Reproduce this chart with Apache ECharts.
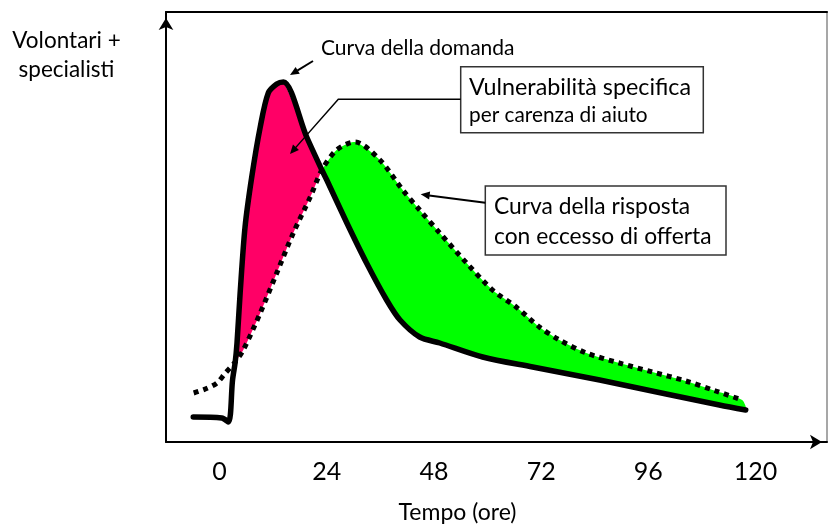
<!DOCTYPE html>
<html>
<head>
<meta charset="utf-8">
<script src="https://cdn.jsdelivr.net/npm/echarts@6/dist/echarts.min.js"></script>
<style>
html,body{margin:0;padding:0;background:#fff;}
#chart{width:828px;height:525px;}
</style>
</head>
<body>
<div id="chart"></div>
<script>
// ---- data (time in hours, value in arbitrary units) ----
const tickValues = [0, 24, 48, 72, 96, 120];
const tickLabels = ['0', '24', '48', '72', '96', '120'];

// "Curva della domanda" (solid)
const demandTime  = [-5.9, 0.5, 2.0, 2.9, 3.5, 3.9, 4.6, 5.7, 7.2, 9.1, 10.9, 12.8, 14.3, 19.5, 22.9, 24.0, 28.5, 32.9, 37.4, 40.4, 44.8, 49.3, 58.9, 70.1, 85.1, 100.0, 111.9, 117.8];
const demandValue = [25, 24, 20, 62, 80, 99, 149, 215, 265, 315, 349, 358, 360, 305, 272, 262, 219, 179, 142, 122, 105, 99, 85, 75, 62, 48, 37, 32];

// "Curva della risposta" (dotted)
const responseTime  = [-5.8, -3.2, -0.6, 1.3, 3.5, 5.3, 9.1, 12.8, 16.5, 20.3, 22.9, 26.2, 30.3, 35.9, 41.0, 44.8, 49.3, 55.3, 61.1, 66.4, 71.6, 76.1, 82.1, 89.5, 96.9, 104.4, 111.1, 117.0];
const responseValue = [49, 53, 59, 69, 80, 92, 129, 169, 209, 245, 272, 292, 300, 282, 252, 232, 209, 179, 152, 135, 115, 102, 89, 79, 70, 61, 51, 42];

// times where the two curves cross
const crossingTimes = [3.5, 22.9];

// ---- helpers ----
function pairs(t, v) { return t.map((x, i) => [x, v[i]]); }
function between(arr, a, b) { return arr.filter(p => p[0] >= a - 1e-9 && p[0] <= b + 1e-9); }

const demand = pairs(demandTime, demandValue);
const response = pairs(responseTime, responseValue);
const tEnd = Math.max(demandTime[demandTime.length - 1], responseTime[responseTime.length - 1]);

// regions between the curves: upper edge, lower edge, colour
const regions = [
  { upper: between(demand, crossingTimes[0], crossingTimes[1]), lower: between(response, crossingTimes[0], crossingTimes[1]), color: '#FF0066' },
  { upper: between(response, crossingTimes[1], tEnd), lower: between(demand, crossingTimes[1], tEnd), color: '#00FF00' }
];

const FONT = 'Lato';
const SMOOTH = 0.3;

function arrow(points, width) {
  const n = points.length;
  const [x1, y1] = points[n - 2], [x2, y2] = points[n - 1];
  const ang = Math.atan2(y2 - y1, x2 - x1);
  const L = 9, W = 4;
  const bx = x2 - L * Math.cos(ang), by = y2 - L * Math.sin(ang);
  const px = -Math.sin(ang) * W, py = Math.cos(ang) * W;
  const linePts = points.slice(0, n - 1).concat([[bx + 0.5 * Math.cos(ang), by + 0.5 * Math.sin(ang)]]);
  return [
    { type: 'polyline', shape: { points: linePts }, style: { stroke: '#000', lineWidth: width, fill: null }, z: 100 },
    { type: 'polygon', shape: { points: [[x2, y2], [bx + px, by + py], [bx - px, by - py]] }, style: { fill: '#000' }, z: 100 }
  ];
}

const chart = echarts.init(document.getElementById('chart'), null, { renderer: 'canvas' });

const hiddenAxisParts = { axisTick: { show: false }, splitLine: { show: false }, axisLabel: { show: false } };

const option = {
  animation: false,
  backgroundColor: '#fff',
  textStyle: { fontFamily: FONT },
  grid: { left: 166, right: 1, top: 12, bottom: 83, containLabel: false, outerBoundsMode: 'none' },
  xAxis: [
    {
      type: 'value', min: -12, max: 136, z: 10,
      axisLine: { show: true, onZero: false, lineStyle: { color: '#000', width: 2 }, symbol: ['none', 'arrow'], symbolSize: [11, 12], symbolOffset: [0, -5] },
      axisTick: { show: false },
      splitLine: { show: false },
      axisLabel: {
        customValues: tickValues, margin: 17, color: '#000', fontSize: 25, fontFamily: FONT,
        formatter: v => tickLabels[tickValues.indexOf(v)]
      },
      name: 'Tempo (ore)', nameLocation: 'middle', nameGap: 59,
      nameTextStyle: { color: '#000', fontSize: 23, fontFamily: FONT, padding: [0, 78, 0, 0] }
    },
    Object.assign({
      type: 'value', position: 'top', min: -12, max: 136, z: 10,
      axisLine: { show: true, onZero: false, lineStyle: { color: '#000', width: 2 } }
    }, hiddenAxisParts)
  ],
  yAxis: [
    Object.assign({
      type: 'value', min: 0, max: 430, z: 10,
      axisLine: { show: true, onZero: false, lineStyle: { color: '#000', width: 2 }, symbol: ['none', 'arrow'], symbolSize: [11, 12], symbolOffset: [0, -6] },
      name: 'Volontari +\nspecialisti', nameLocation: 'end', nameGap: -14,
      nameTextStyle: { color: '#000', fontSize: 22.5, fontFamily: FONT, align: 'center', verticalAlign: 'top', lineHeight: 29, padding: [0, 199, 0, 0] }
    }, hiddenAxisParts),
    Object.assign({
      type: 'value', position: 'right', min: 0, max: 430, z: 10,
      axisLine: { show: true, onZero: false, lineStyle: { color: '#8a8a8a', width: 1.5 } }
    }, hiddenAxisParts)
  ],
  series: [
    {
      type: 'custom', z: 1, silent: true, clip: false,
      data: regions.map((r, i) => [i]),
      renderItem: function (params, api) {
        const r = regions[api.value(0)];
        const pts = r.upper.map(p => api.coord(p)).concat(r.lower.slice().reverse().map(p => api.coord(p)));
        return { type: 'polygon', shape: { points: pts, smooth: 0.25 }, style: { fill: r.color, stroke: null } };
      }
    },
    {
      name: 'Curva della risposta', type: 'line', data: response, smooth: SMOOTH, symbol: 'none', z: 5,
      lineStyle: { color: '#000', width: 5, type: [5, 5], cap: 'butt' }
    },
    {
      name: 'Curva della domanda', type: 'line', data: demand, smooth: SMOOTH, symbol: 'none', z: 6,
      lineStyle: { color: '#000', width: 5.5, cap: 'round', join: 'round' }
    }
  ],
  graphic: [
    { type: 'text', x: 321, y: 48, z: 100, style: { text: 'Curva della domanda', font: '21px ' + FONT, fill: '#000', verticalAlign: 'middle' } },
    ...arrow([[313, 61], [290, 75]], 2),

    { type: 'rect', shape: { x: 460.7, y: 66.7, width: 242.6, height: 66 }, style: { fill: '#fff', stroke: '#333', lineWidth: 1.5 }, z: 100 },
    { type: 'text', x: 469, y: 87, z: 101, style: { text: 'Vulnerabilità specifica', font: '23.3px ' + FONT, fill: '#000', verticalAlign: 'middle' } },
    { type: 'text', x: 469, y: 115, z: 101, style: { text: 'per carenza di aiuto', font: '20.8px ' + FONT, fill: '#000', verticalAlign: 'middle' } },
    ...arrow([[460.7, 99.3], [338.3, 99.3], [290, 154]], 1.5),

    { type: 'rect', shape: { x: 485.3, y: 186, width: 240.7, height: 69 }, style: { fill: '#fff', stroke: '#333', lineWidth: 1.5 }, z: 100 },
    { type: 'text', x: 494, y: 207, z: 101, style: { text: 'Curva della risposta', font: '22.8px ' + FONT, fill: '#000', verticalAlign: 'middle' } },
    { type: 'text', x: 494, y: 237, z: 101, style: { text: 'con eccesso di offerta', font: '22.8px ' + FONT, fill: '#000', verticalAlign: 'middle' } },
    ...arrow([[485.3, 202.7], [420.7, 194.3]], 2)
  ]
};

chart.setOption(option);
</script>
</body>
</html>
